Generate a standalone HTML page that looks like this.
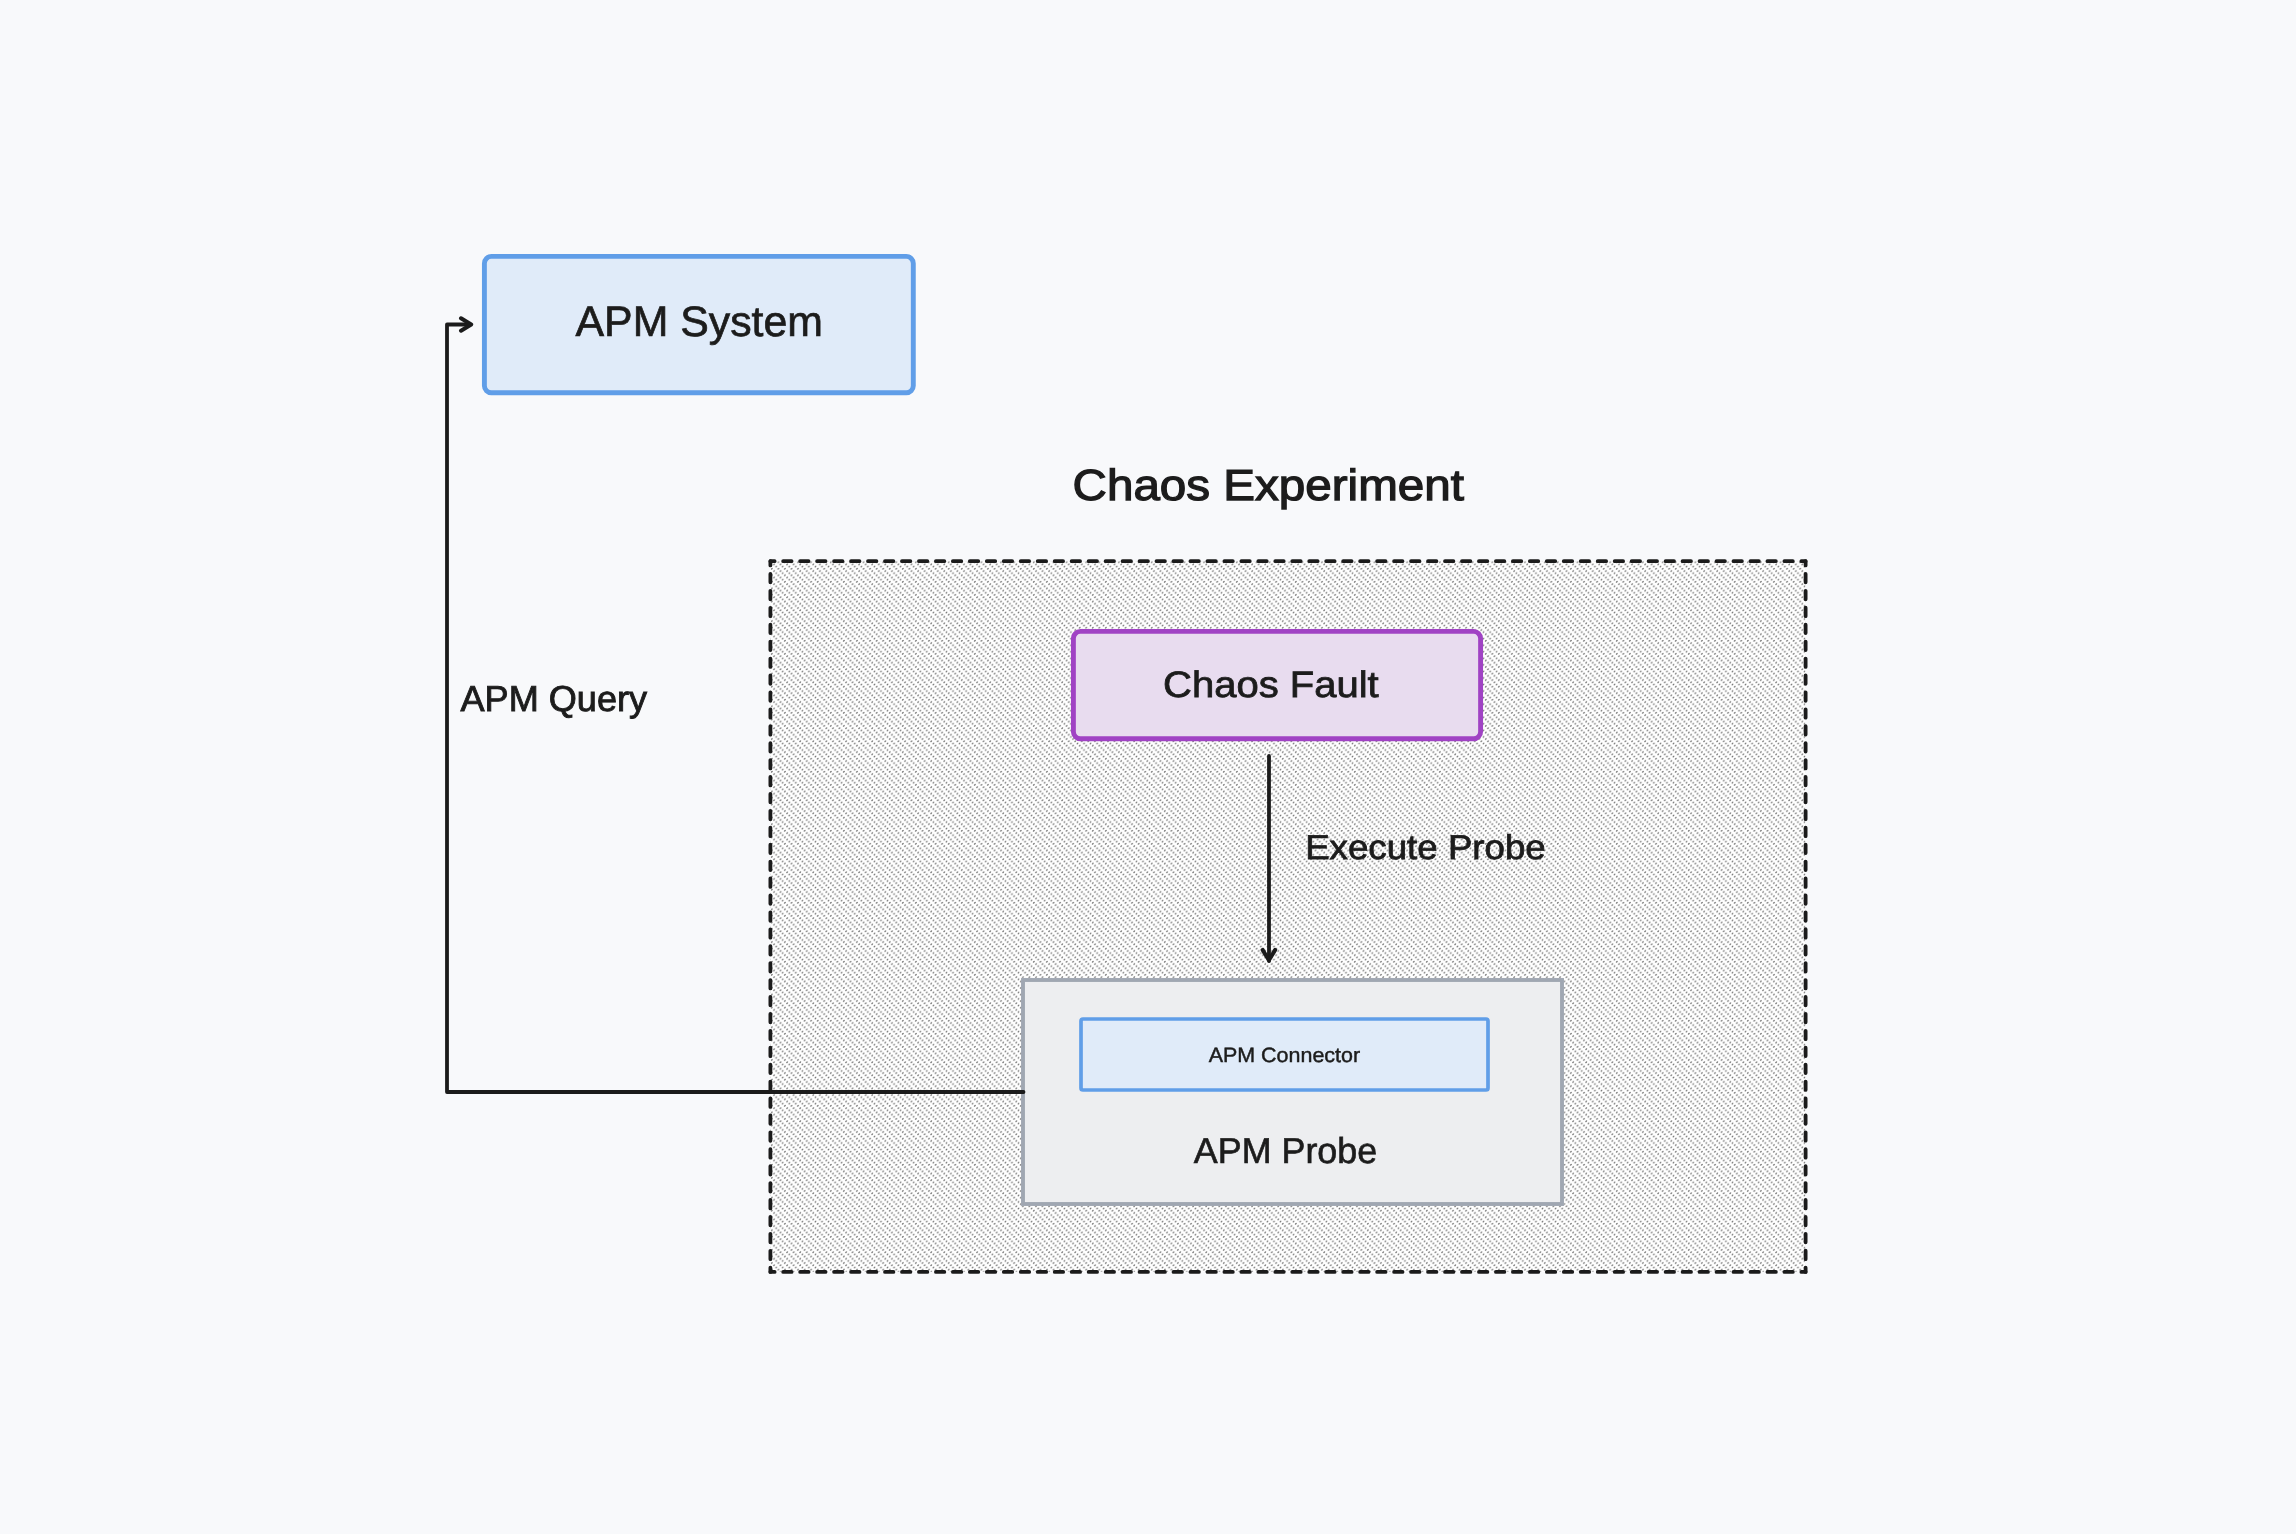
<!DOCTYPE html>
<html>
<head>
<meta charset="utf-8">
<style>
html,body{margin:0;padding:0;background:#f8f9fb;width:2296px;height:1534px;overflow:hidden;}
svg{display:block;position:absolute;left:0;top:0;}
text{font-family:"Liberation Sans",sans-serif;}
.t{will-change:transform;text-rendering:geometricPrecision;}
</style>
</head>
<body>
<svg width="2296" height="1534" viewBox="0 0 2296 1534">
<defs>
<pattern id="hatch" patternUnits="userSpaceOnUse" x="0" y="0" width="6.55" height="6.55">
<rect width="6.55" height="6.55" fill="#ffffff"/>
<ellipse cx="1.100" cy="1.100" rx="1.1" ry="0.68" transform="rotate(-45 1.100 1.100)" fill="#747474"/><ellipse cx="3.283" cy="3.283" rx="1.1" ry="0.68" transform="rotate(-45 3.283 3.283)" fill="#747474"/><ellipse cx="5.467" cy="5.467" rx="1.1" ry="0.68" transform="rotate(-45 5.467 5.467)" fill="#747474"/>
</pattern>
</defs>
<rect width="2296" height="1534" fill="#f8f9fb"/>
<rect x="484.4" y="256.4" width="428.9" height="136.3" rx="7" ry="7" fill="#e0ebf9" stroke="#609ee8" stroke-width="4.9"/>
<text class="t" x="575.55" y="336.00" font-size="42.57" stroke="#1c1c1c" stroke-width="0.7" fill="#1c1c1c" textLength="247.45" lengthAdjust="spacingAndGlyphs">APM System</text>
<text class="t" x="1072.57" y="500.00" font-size="43.60" stroke="#1c1c1c" stroke-width="1.25" fill="#1c1c1c" textLength="391.42" lengthAdjust="spacingAndGlyphs">Chaos Experiment</text>
<rect x="770.4" y="561.2" width="1035.2" height="710.7" fill="url(#hatch)"/>
<path d="M770.4 561.2 L1805.6 561.2" stroke="#1b1b1b" stroke-width="3.8" fill="none" stroke-linecap="round" stroke-dasharray="8.400 8.570" stroke-dashoffset="4.200"/>
<path d="M1805.6 561.2 L1805.6 1271.9" stroke="#1b1b1b" stroke-width="3.8" fill="none" stroke-linecap="round" stroke-dasharray="8.400 8.521" stroke-dashoffset="4.200"/>
<path d="M1805.6 1271.9 L770.4 1271.9" stroke="#1b1b1b" stroke-width="3.8" fill="none" stroke-linecap="round" stroke-dasharray="8.400 8.570" stroke-dashoffset="4.200"/>
<path d="M770.4 1271.9 L770.4 561.2" stroke="#1b1b1b" stroke-width="3.8" fill="none" stroke-linecap="round" stroke-dasharray="8.400 8.521" stroke-dashoffset="4.200"/>
<rect x="1073.4" y="631.4" width="407.2" height="107.4" rx="7" ry="7" fill="#e8dcef" stroke="#a043c4" stroke-width="4.9"/>
<text class="t" x="1163.07" y="697.00" font-size="36.82" stroke="#1c1c1c" stroke-width="0.8" fill="#1c1c1c" textLength="215.65" lengthAdjust="spacingAndGlyphs">Chaos Fault</text>
<path d="M1269 756 L1269 961" stroke="#1b1b1b" stroke-width="3.8" fill="none" stroke-linecap="round"/>
<path d="M1262.6 949.9 L1268.9 960.3 L1275.2 949.9" stroke="#1b1b1b" stroke-width="4" fill="none" stroke-linecap="round" stroke-linejoin="round"/>
<text class="t" x="1305.17" y="859.00" font-size="34.43" stroke="#1c1c1c" stroke-width="0.8" fill="#1c1c1c" textLength="240.61" lengthAdjust="spacingAndGlyphs">Execute Probe</text>
<rect x="1023" y="980" width="539" height="224" fill="#edeef0" stroke="#a0a7b2" stroke-width="3.9"/>
<rect x="1081" y="1019" width="407" height="71" rx="2" ry="2" fill="#e0ebf9" stroke="#609ee8" stroke-width="3.7"/>
<text class="t" x="1208.65" y="1062.00" font-size="20.63" stroke="#1c1c1c" stroke-width="0.45" fill="#1c1c1c" textLength="151.46" lengthAdjust="spacingAndGlyphs">APM Connector</text>
<text class="t" x="1193.79" y="1163.00" font-size="36.03" stroke="#1c1c1c" stroke-width="0.65" fill="#1c1c1c" textLength="183.45" lengthAdjust="spacingAndGlyphs">APM Probe</text>
<path d="M1023.5 1092 L447 1092 L447 324.5 L470 324.5" stroke="#1b1b1b" stroke-width="3.8" fill="none" stroke-linejoin="round" stroke-linecap="round"/>
<path d="M461 318.3 L471.2 324.5 L461 330.7" stroke="#1b1b1b" stroke-width="4" fill="none" stroke-linecap="round" stroke-linejoin="round"/>
<text class="t" x="460.54" y="711.00" font-size="36.05" stroke="#1c1c1c" stroke-width="0.9" fill="#1c1c1c" textLength="186.49" lengthAdjust="spacingAndGlyphs">APM Query</text>
</svg>
</body>
</html>
